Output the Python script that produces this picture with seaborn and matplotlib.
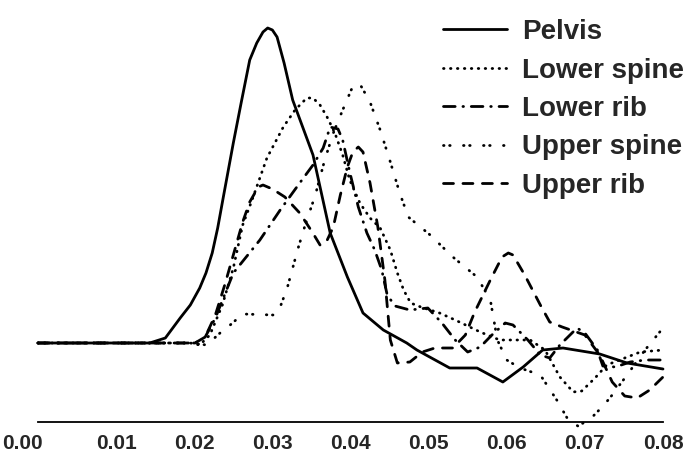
import numpy as np
import pandas as pd
import matplotlib
matplotlib.use("Agg")
import matplotlib.pyplot as plt
import matplotlib.transforms as mtransforms
import seaborn as sns

# ---- data (y in arbitrary relative units) ----
parts = ["Pelvis", "Lower spine", "Lower rib", "Upper spine", "Upper rib"]

pelvis_x = [0.0, 0.0143, 0.0163, 0.0182, 0.0195, 0.0207, 0.0215, 0.0223, 0.0230, 0.0237,
            0.0250, 0.0260, 0.0271, 0.0280, 0.0288, 0.0294, 0.0300, 0.0306, 0.0315, 0.0326,
            0.0352, 0.0374, 0.0396, 0.0416, 0.0442, 0.0472, 0.0485, 0.0527, 0.0562, 0.0595,
            0.0621, 0.0646, 0.0672, 0.0719, 0.0754, 0.0800]
pelvis_y = [0, 0, 5, 25, 38, 55, 70, 90, 115, 145,
            200, 240, 283, 300, 311, 315, 313, 306, 280, 243,
            188, 110, 66, 30, 13, 0, -7, -25, -25, -39,
            -24, -7, -5, -11, -20, -26]

lspine_x = [0.0, 0.0195, 0.0207, 0.0220, 0.0236, 0.0250, 0.0262, 0.0274, 0.0293, 0.0314,
            0.0329, 0.0344, 0.0352, 0.0361, 0.0370, 0.0380, 0.0390, 0.0399, 0.0412, 0.0425,
            0.0438, 0.0451, 0.0460, 0.0468, 0.0477, 0.0490, 0.0514, 0.0534, 0.0566, 0.0591,
            0.0630, 0.0649, 0.0668, 0.0685, 0.0696, 0.0713, 0.0728, 0.0751, 0.0771, 0.0800]
lspine_y = [0, 0, -2, 8, 38, 75, 118, 143, 185, 216,
            233, 245, 245, 238, 226, 210, 188, 163, 140, 125,
            115, 93, 70, 53, 40, 36, 30, 23, 11, 3,
            3, -7, -34, -49, -48, -35, -22, -15, -9, -7]

lrib_x = [0.0, 0.0201, 0.0214, 0.0227, 0.0250, 0.0284, 0.0310, 0.0335, 0.0352, 0.0365,
          0.0374, 0.0384, 0.0390, 0.0399, 0.0410, 0.0421, 0.0431, 0.0440, 0.0447, 0.0457,
          0.0476, 0.0499, 0.0517, 0.0534, 0.0550, 0.0566, 0.0581, 0.0598, 0.0608, 0.0627,
          0.0643, 0.0655, 0.0668, 0.0690, 0.0700, 0.0716, 0.0723, 0.0739, 0.0758, 0.0777, 0.0800]
lrib_y = [0, 0, 6, 25, 70, 103, 133, 160, 178, 195,
          216, 214, 203, 171, 136, 110, 93, 73, 48, 37,
          33, 35, 20, 3, -9, -4, 8, 20, 18, 3,
          -12, -15, -2, 15, 10, -7, -23, -24, -19, -17, -17]

uspine_x = [0.0, 0.0195, 0.0216, 0.0233, 0.0246, 0.0262, 0.0301, 0.0310, 0.0319, 0.0333,
            0.0342, 0.0355, 0.0367, 0.0378, 0.0390, 0.0402, 0.0412, 0.0425, 0.0438, 0.0451,
            0.0463, 0.0474, 0.0502, 0.0531, 0.0562, 0.0579, 0.0588, 0.0600, 0.0617, 0.0643,
            0.0664, 0.0678, 0.0691, 0.0707, 0.0722, 0.0732, 0.0754, 0.0777, 0.0800]
uspine_y = [0, 0, -2, 10, 18, 29, 28, 36, 55, 95,
            118, 148, 183, 210, 233, 255, 259, 241, 213, 181,
            150, 126, 108, 86, 66, 43, 3, -17, -25, -32,
            -57, -76, -83, -76, -64, -55, -32, -7, 15]

urib_x = [0.0, 0.0201, 0.0214, 0.0227, 0.0239, 0.0250, 0.0262, 0.0271, 0.0282, 0.0288,
          0.0300, 0.0316, 0.0335, 0.0351, 0.0361, 0.0369, 0.0378, 0.0387, 0.0396, 0.0403,
          0.0410, 0.0416, 0.0425, 0.0435, 0.0444, 0.0451, 0.0460, 0.0476, 0.0492, 0.0508,
          0.0531, 0.0547, 0.0559, 0.0579, 0.0594, 0.0602, 0.0608, 0.0623, 0.0643, 0.0655,
          0.0671, 0.0700, 0.0719, 0.0735, 0.0751, 0.0767, 0.0783, 0.0800]
urib_y = [0, 0, 6, 28, 58, 88, 121, 141, 156, 158,
          154, 146, 130, 111, 98, 101, 116, 148, 176, 191,
          196, 191, 160, 116, 63, 3, -20, -19, -9, -5,
          -5, 8, 31, 63, 86, 90, 88, 68, 38, 21,
          16, 8, -12, -39, -53, -55, -47, -34]

tick_values = [0.00, 0.01, 0.02, 0.03, 0.04, 0.05, 0.06, 0.07, 0.08]
tick_labels = ["0.00", "0.01", "0.02", "0.03", "0.04", "0.05", "0.06", "0.07", "0.08"]

frames = []
for name, xs, ys in [("Pelvis", pelvis_x, pelvis_y), ("Lower spine", lspine_x, lspine_y),
                     ("Lower rib", lrib_x, lrib_y), ("Upper spine", uspine_x, uspine_y),
                     ("Upper rib", urib_x, urib_y)]:
    frames.append(pd.DataFrame({"x": xs, "y": ys, "part": name}))
df = pd.concat(frames, ignore_index=True)

# ---- styling ----
sns.set_style("white")
plt.rcParams["font.family"] = ["Liberation Sans", "DejaVu Sans"]
plt.rcParams["lines.dash_capstyle"] = "round"
plt.rcParams["lines.solid_capstyle"] = "round"

fig = plt.figure(figsize=(6.95, 4.63), dpi=100)
ax = fig.add_axes([38 / 695, 41 / 463, 625 / 695, 422 / 463])

dashes = {
    "Pelvis": "",
    "Lower spine": (0.2, 2.3),
    "Lower rib": (4.2, 2.8, 0.2, 2.8),
    "Upper spine": (0.2, 2.0, 0.2, 4.8),
    "Upper rib": (3.6, 3.4),
}
palette = {p: "black" for p in parts}

sns.lineplot(data=df, x="x", y="y", hue="part", style="part", hue_order=parts,
             style_order=parts, palette=palette, dashes=dashes, sort=False,
             estimator=None, linewidth=2.0, ax=ax, legend=True)

for ln in ax.get_lines():
    ln.set_clip_on(False)

ax.set_xlim(0, 0.08)
ax.set_ylim(-79, 343)
ax.set_xlabel("")
ax.set_ylabel("")
ax.set_yticks([])
ax.set_xticks(tick_values)
ax.set_xticklabels(tick_labels, fontsize=15, fontweight="bold")
ax.tick_params(axis="x", direction="out", length=4.5, width=1.3, pad=4, color="black")
for s in ["top", "right", "left"]:
    ax.spines[s].set_visible(False)
ax.spines["bottom"].set_linewidth(1.3)
ax.spines["bottom"].set_color("black")

# first label sits slightly left of its tick in the reference
lab0 = ax.get_xticklabels()[0]
lab0.set_transform(lab0.get_transform() + mtransforms.ScaledTranslation(-16 / 100, 0, fig.dpi_scale_trans))

handles, labels = ax.get_legend_handles_labels()
ax.legend(handles, labels, loc="upper left", bbox_to_anchor=(443 / 695, 1 - 19 / 463),
          bbox_transform=fig.transFigure, frameon=False, borderpad=0, borderaxespad=0,
          handlelength=2.3, handletextpad=0.55, labelspacing=0.45,
          prop={"size": 20, "weight": "bold", "family": ["Liberation Sans", "DejaVu Sans"]})

fig.savefig("out.png", dpi=100, facecolor="white")
